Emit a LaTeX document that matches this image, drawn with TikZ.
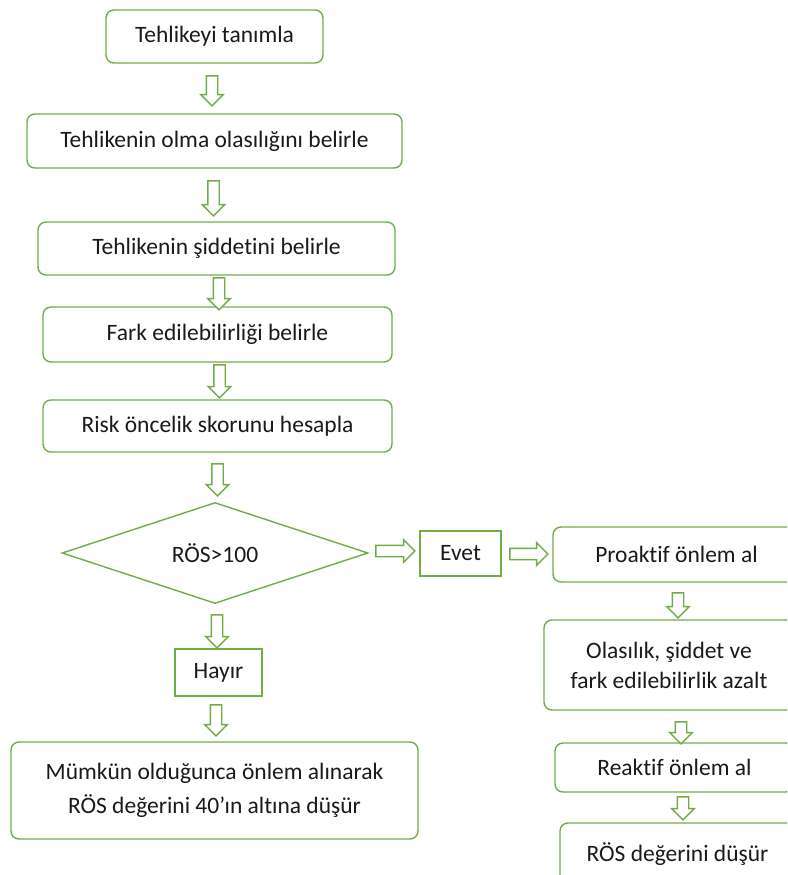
\documentclass[tikz,border=0pt]{standalone}
\usepackage{fontspec}
\setmainfont{Carlito}[Ligatures=NoCommon]
\usetikzlibrary{shapes.geometric,shapes.arrows}
\definecolor{gr}{HTML}{70AD47}
\definecolor{tx}{HTML}{1A1A1A}
\begin{document}
\begin{tikzpicture}[x=1pt,y=-1pt,
  lbl/.style={text=tx,font=\fontsize{23.5}{34}\selectfont,align=center,inner sep=0pt},
  rbox/.style={lbl,draw=gr,line width=1.4pt,rounded corners=8pt},
  sbox/.style={lbl,draw=gr,line width=1.4pt},
  barrow/.style={single arrow,draw=gr,fill=white,line width=1.4pt,
    inner xsep=0pt,inner ysep=5pt,text height=0pt,text depth=0pt,
    single arrow head extend=5.5pt,single arrow tip angle=90},
  darrow/.style={barrow,rotate=-90}]
\useasboundingbox (0,0) rectangle (787,875);
\clip (0,0) rectangle (787,875);
\fill[white] (0,0) rectangle (787,875);
% left column
\node[rbox,minimum width=217pt,minimum height=53pt] (b1) at (214.5,36.5) {Tehlikeyi tanımla};
\node[rbox,minimum width=375pt,minimum height=54pt] (b2) at (214.5,141) {Tehlikenin olma olasılığını belirle};
\node[rbox,minimum width=357pt,minimum height=53pt] (b3) at (216.5,248.5) {Tehlikenin şiddetini belirle};
\node[rbox,minimum width=349pt,minimum height=55pt] (b4) at (217.5,334.5) {Fark edilebilirliği belirle};
\node[rbox,minimum width=349pt,minimum height=52pt] (b5) at (217.5,426) {Risk öncelik skorunu hesapla};
\node[diamond,lbl,draw=gr,line width=1.4pt,aspect=3,minimum width=306pt,minimum height=101pt] (d) at (215,553) {RÖS>100};
\node[sbox,minimum width=87pt,minimum height=47pt] (hay) at (218.5,672.5) {Hayır};
\node[rbox,minimum width=407pt,minimum height=97pt] (mum) at (214.5,790.5) {Mümkün olduğunca önlem alınarak\\RÖS değerini 40’ın altına düşür};
% right column
\node[sbox,minimum width=81pt,minimum height=45pt] (evet) at (460.5,553.5) {Evet};
\node[rbox,minimum width=247pt,minimum height=55pt] (pro) at (676.5,554.5) {Proaktif önlem al};
\node[rbox,minimum width=250pt,minimum height=90pt,font=\fontsize{23.5}{30}\selectfont] (ola) at (669,665) {Olasılık, şiddet ve\\fark edilebilirlik azalt};
\node[rbox,minimum width=239pt,minimum height=49pt] (rea) at (674.5,767.5) {Reaktif önlem al};
\node[rbox,minimum width=235pt,minimum height=62pt] (ros) at (677.5,854) {RÖS değerini düşür};
% block arrows
\node[darrow,minimum height=30pt] (a1) at (212,88) {};
\node[darrow,minimum height=35pt] (a2) at (213.5,195.5) {};
\node[darrow,minimum height=32pt] (a3) at (219,291) {};
\node[darrow,minimum height=33pt] (a4) at (219.5,378.5) {};
\node[darrow,minimum height=32pt] (a5) at (217.5,477) {};
\node[darrow,minimum height=33pt] (a6) at (217,628.5) {};
\node[darrow,minimum height=31pt] (a7) at (216,717.5) {};
\node[barrow,minimum height=39pt] (h1) at (392.5,551) {};
\node[barrow,minimum height=38pt] (h2) at (526,554) {};
\node[darrow,minimum height=25pt] (a8) at (678,602.5) {};
\node[darrow,minimum height=22pt] (a9) at (681,730) {};
\node[darrow,minimum height=23pt] (a10) at (683,805.5) {};
\end{tikzpicture}
\end{document}
